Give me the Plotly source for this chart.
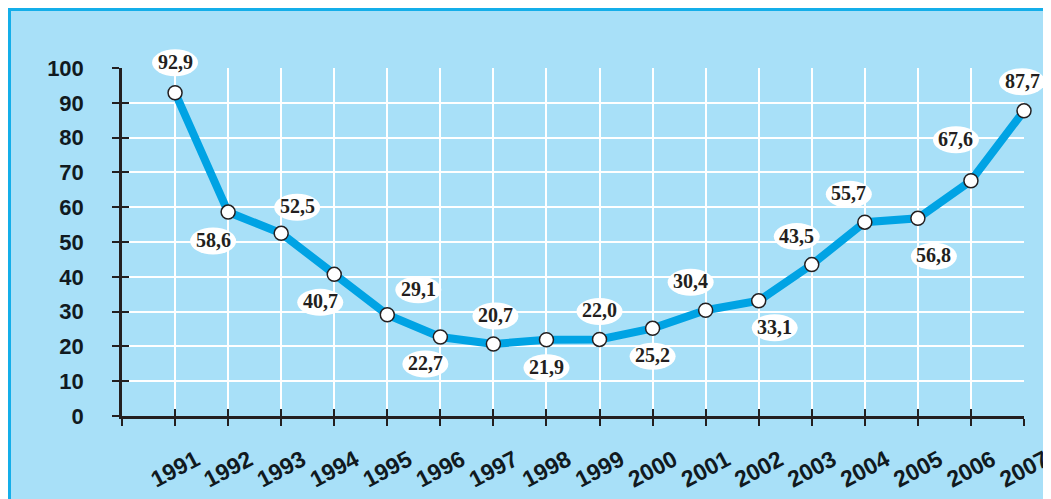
import plotly.graph_objects as go

# ---- data ----
years = list(range(1991, 2008))
values = [92.9, 58.6, 52.5, 40.7, 29.1, 22.7, 20.7, 21.9, 22.0, 25.2,
          30.4, 33.1, 43.5, 55.7, 56.8, 67.6, 87.7]
labels = ["92,9", "58,6", "52,5", "40,7", "29,1", "22,7", "20,7", "21,9", "22,0",
          "25,2", "30,4", "33,1", "43,5", "55,7", "56,8", "67,6", "87,7"]
y_ticks = list(range(0, 101, 10))
x_ticks = list(range(1990, 2008))
x_ticktext = [""] + [str(y) for y in years]

# ---- style: label offsets in screen pixels (dx right, dy down) ----
label_dx = [0, -15, 16, -14, 31, -15, 2, 0, 0, 0, -15, 16, -15, -16, 16, -15, -2]
label_dy = [-30, 29, -26, 28, -25, 27, -28, 28, -28, 28, -28, 27, -28, -28, 38, -41, -29]

BG = "#a8e0f8"
BORDER = "#14aee9"
LINE = "#00a3e4"
DARK = "#231f20"
GRID = "#ffffff"

W, H = 1051, 499
ML, MR, MT, MB = 114, 35, 60, 91
PW, PH = W - ML - MR, H - MT - MB
X_RANGE = [1990, 2007]
Y_RANGE = [0, 100]

fig = go.Figure()

fig.add_trace(go.Scatter(
    x=years, y=values, mode="lines+markers",
    line=dict(color=LINE, width=8),
    marker=dict(size=14, color="white", line=dict(color=DARK, width=1.5)),
    hoverinfo="skip", showlegend=False, cliponaxis=False,
))
# invisible trace to activate the overlay axes (inside half of crossing ticks)
fig.add_trace(go.Scatter(
    x=years, y=values, xaxis="x2", yaxis="y2", mode="lines",
    line=dict(width=0, color="rgba(0,0,0,0)"),
    hoverinfo="skip", showlegend=False,
))

shapes = []
# background panel with border on top/left
shapes.append(dict(
    type="rect", xref="paper", yref="paper",
    x0=(1.5 - ML) / PW, x1=(W + 20 - ML) / PW,
    y0=-(H + 20 - MT - PH) / PH, y1=(MT + PH - 1.5) / PH,
    fillcolor=BG, line=dict(color=BORDER, width=3), layer="below",
))

annotations = []
EW, EH = 46, 27
for yr, v, t, dx, dy in zip(years, values, labels, label_dx, label_dy):
    # ellipse behind the label, anchored at the point (paper coords so it is not clipped)
    shapes.append(dict(
        type="circle", xref="paper", yref="paper",
        xsizemode="pixel", ysizemode="pixel",
        xanchor=(yr - X_RANGE[0]) / (X_RANGE[1] - X_RANGE[0]),
        yanchor=(v - Y_RANGE[0]) / (Y_RANGE[1] - Y_RANGE[0]),
        x0=dx - EW / 2, x1=dx + EW / 2,
        y0=-dy - EH / 2, y1=-dy + EH / 2,
        fillcolor="white", line=dict(width=0), layer="above",
    ))
    annotations.append(dict(
        x=yr, y=v, xref="x", yref="y", text=t, showarrow=False,
        xshift=dx, yshift=-dy + 1,
        font=dict(family="Liberation Serif", size=20, color=DARK, weight="bold"),
    ))

axis_font = dict(family="Liberation Sans", size=22, color="#111a1f", weight="bold")

fig.update_layout(
    width=W, height=H,
    margin=dict(l=ML, r=MR, t=MT, b=MB, pad=0, autoexpand=False),
    paper_bgcolor="white",
    plot_bgcolor=BG,
    shapes=shapes,
    annotations=annotations,
    xaxis=dict(
        range=X_RANGE, tickmode="array", tickvals=x_ticks, ticktext=x_ticktext,
        showgrid=True, gridcolor=GRID, gridwidth=2,
        showline=True, linecolor=DARK, linewidth=2.5,
        ticks="outside", ticklen=7, tickwidth=2, tickcolor=DARK,
        tickangle=-28, tickfont=dict(family="Liberation Sans", size=23, color="#111a1f", weight="bold"),
        ticklabelshift=21, ticklabelstandoff=12, ticklabeloverflow="allow",
        zeroline=False, fixedrange=True, automargin=False,
    ),
    yaxis=dict(
        range=Y_RANGE, tickmode="array", tickvals=y_ticks,
        showgrid=True, gridcolor=GRID, gridwidth=2,
        showline=True, linecolor=DARK, linewidth=2.5,
        ticks="outside", ticklen=7, tickwidth=2, tickcolor=DARK,
        tickfont=axis_font, ticklabelstandoff=24,
        zeroline=False, fixedrange=True, automargin=False,
    ),
    xaxis2=dict(
        range=X_RANGE, overlaying="x", anchor="y2", tickmode="array", tickvals=x_ticks,
        showticklabels=False, showgrid=False, showline=False, zeroline=False,
        ticks="inside", ticklen=7, tickwidth=2, tickcolor=DARK, side="bottom",
        automargin=False,
    ),
    yaxis2=dict(
        range=Y_RANGE, overlaying="y", anchor="x2", tickmode="array", tickvals=y_ticks,
        showticklabels=False, showgrid=False, showline=False, zeroline=False,
        ticks="inside", ticklen=7, tickwidth=2, tickcolor=DARK, side="left",
        automargin=False,
    ),
    showlegend=False,
)

fig.write_html(
    "out.html",
    post_script="document.documentElement.style.overflow='hidden';document.body.style.overflow='hidden';",
)
